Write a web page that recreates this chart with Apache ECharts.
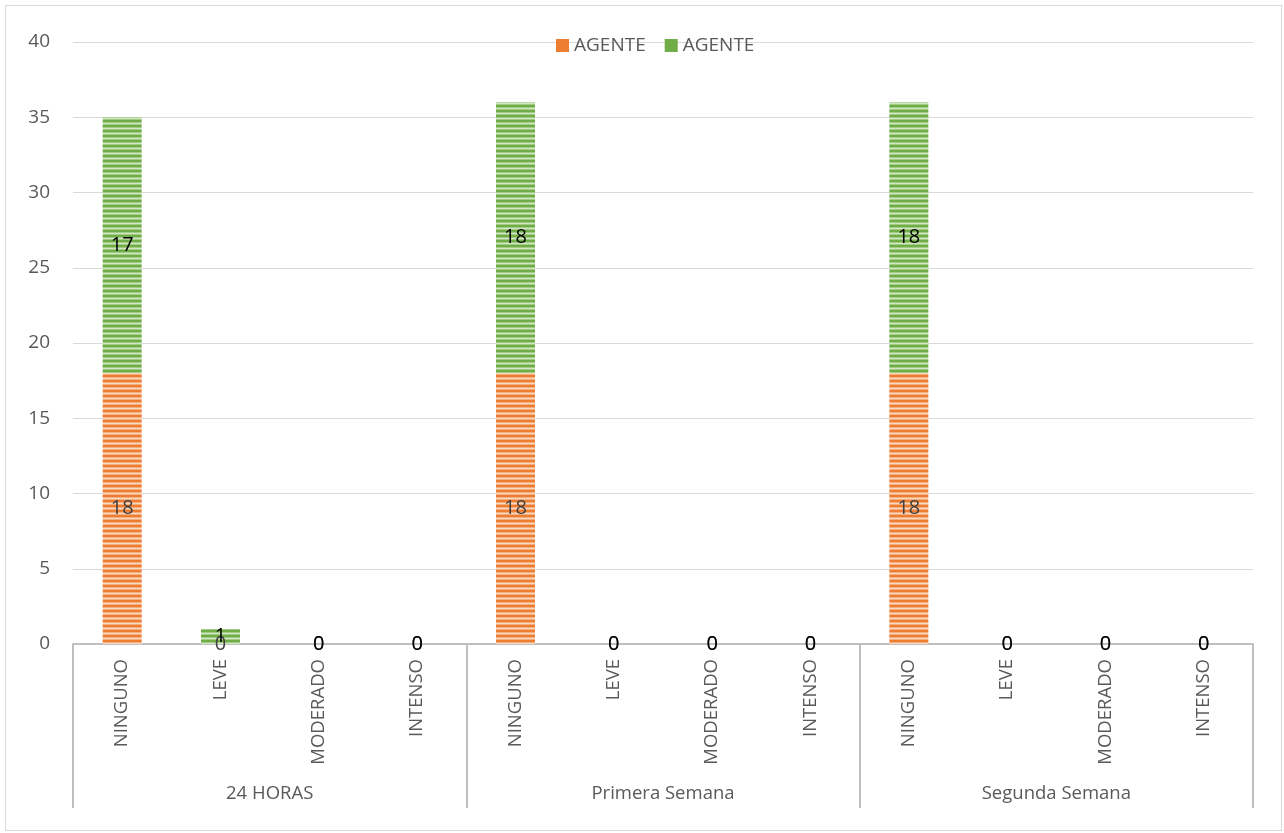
<!DOCTYPE html>
<html>
<head>
<meta charset="utf-8">
<script src="https://cdn.jsdelivr.net/npm/echarts@6/dist/echarts.min.js"></script>
<style>
  html, body { margin: 0; padding: 0; background: #fff; }
  #frame { position: absolute; left: 5px; top: 5px; width: 1277px; height: 826px; border: 1px solid #D9D9D9; box-sizing: border-box; }
  #chart { position: absolute; left: 0; top: 0; width: 1284px; height: 833px; }
</style>
</head>
<body>
<div id="frame"></div>
<div id="chart"></div>
<script>
// Severity levels, repeated for each follow-up period
const levels = ['NINGUNO', 'LEVE', 'MODERADO', 'INTENSO'];
const periods = ['24 HORAS', 'Primera Semana', 'Segunda Semana'];
const categories = periods.flatMap(() => levels);

// Counts per severity level for each period (two stacked series)
const agenteA = [18, 0, 0, 0, 18, 0, 0, 0, 18, 0, 0, 0];
const agenteB = [17, 1, 0, 0, 18, 0, 0, 0, 18, 0, 0, 0];
const seriesNames = ['AGENTE', 'AGENTE'];

// Horizontal-stripe fill
function stripes(base, light, mid) {
  const c = document.createElement('canvas');
  c.width = 4; c.height = 5;
  const g = c.getContext('2d');
  g.fillStyle = base; g.fillRect(0, 0, 4, 5);
  g.fillStyle = mid; g.fillRect(0, 2, 4, 1);
  g.fillStyle = light; g.fillRect(0, 3, 4, 1);
  g.fillStyle = mid; g.fillRect(0, 4, 4, 1);
  return { image: c, repeat: 'repeat' };
}
const orangeFill = stripes('#ED7D31', '#FAD9C3', '#F4AE7E');
const greenFill = stripes('#70AD47', '#D2E7C4', '#A2CB86');

const FONT = '"Open Sans", "Noto Sans", sans-serif';

const chart = echarts.init(document.getElementById('chart'));
chart.setOption({
  animation: false,
  textStyle: { fontFamily: FONT },
  legend: {
    left: 551, top: 31,
    itemWidth: 13, itemHeight: 13, itemGap: 19,
    icon: 'rect',
    textStyle: { fontSize: 19, color: '#595959', fontFamily: FONT },
    data: [
      { name: 'a', itemStyle: { color: '#ED7D31' } },
      { name: 'b', itemStyle: { color: '#70AD47' } }
    ],
    formatter: n => n === 'a' ? seriesNames[0] : seriesNames[1]
  },
  grid: { left: 73, right: 31, top: 42, bottom: 189 },
  xAxis: [
    {
      type: 'category',
      data: categories,
      position: 'bottom',
      axisLine: { show: true, lineStyle: { color: '#BFBFBF', width: 2 } },
      axisTick: { show: false },
      axisLabel: {
        rotate: 90, interval: 0, margin: 15,
        fontSize: 18.5, color: '#595959', fontFamily: FONT
      }
    },
    {
      type: 'category',
      data: periods,
      position: 'bottom',
      axisLine: { show: false },
      axisTick: { show: true, length: 164, lineStyle: { color: '#BFBFBF', width: 2 } },
      axisLabel: { margin: 140, fontSize: 18.5, color: '#595959', fontFamily: FONT },
      splitLine: { show: false }
    }
  ],
  yAxis: {
    type: 'value',
    min: 0, max: 40, interval: 5,
    axisLine: { show: false },
    axisTick: { show: false },
    splitLine: { lineStyle: { color: '#D9D9D9', width: 1 } },
    axisLabel: { margin: 23, fontSize: 19, color: '#595959', fontFamily: FONT }
  },
  series: [
    {
      name: 'a', type: 'bar', stack: 'total', barWidth: 39,
      data: agenteA,
      itemStyle: { color: orangeFill },
      label: { show: true, position: 'inside', fontSize: 20, color: '#404040', fontFamily: FONT }
    },
    {
      name: 'b', type: 'bar', stack: 'total', barWidth: 39,
      data: agenteB,
      itemStyle: { color: greenFill },
      label: { show: true, position: 'inside', fontSize: 20, color: '#000000', fontFamily: FONT }
    }
  ]
});
</script>
</body>
</html>
